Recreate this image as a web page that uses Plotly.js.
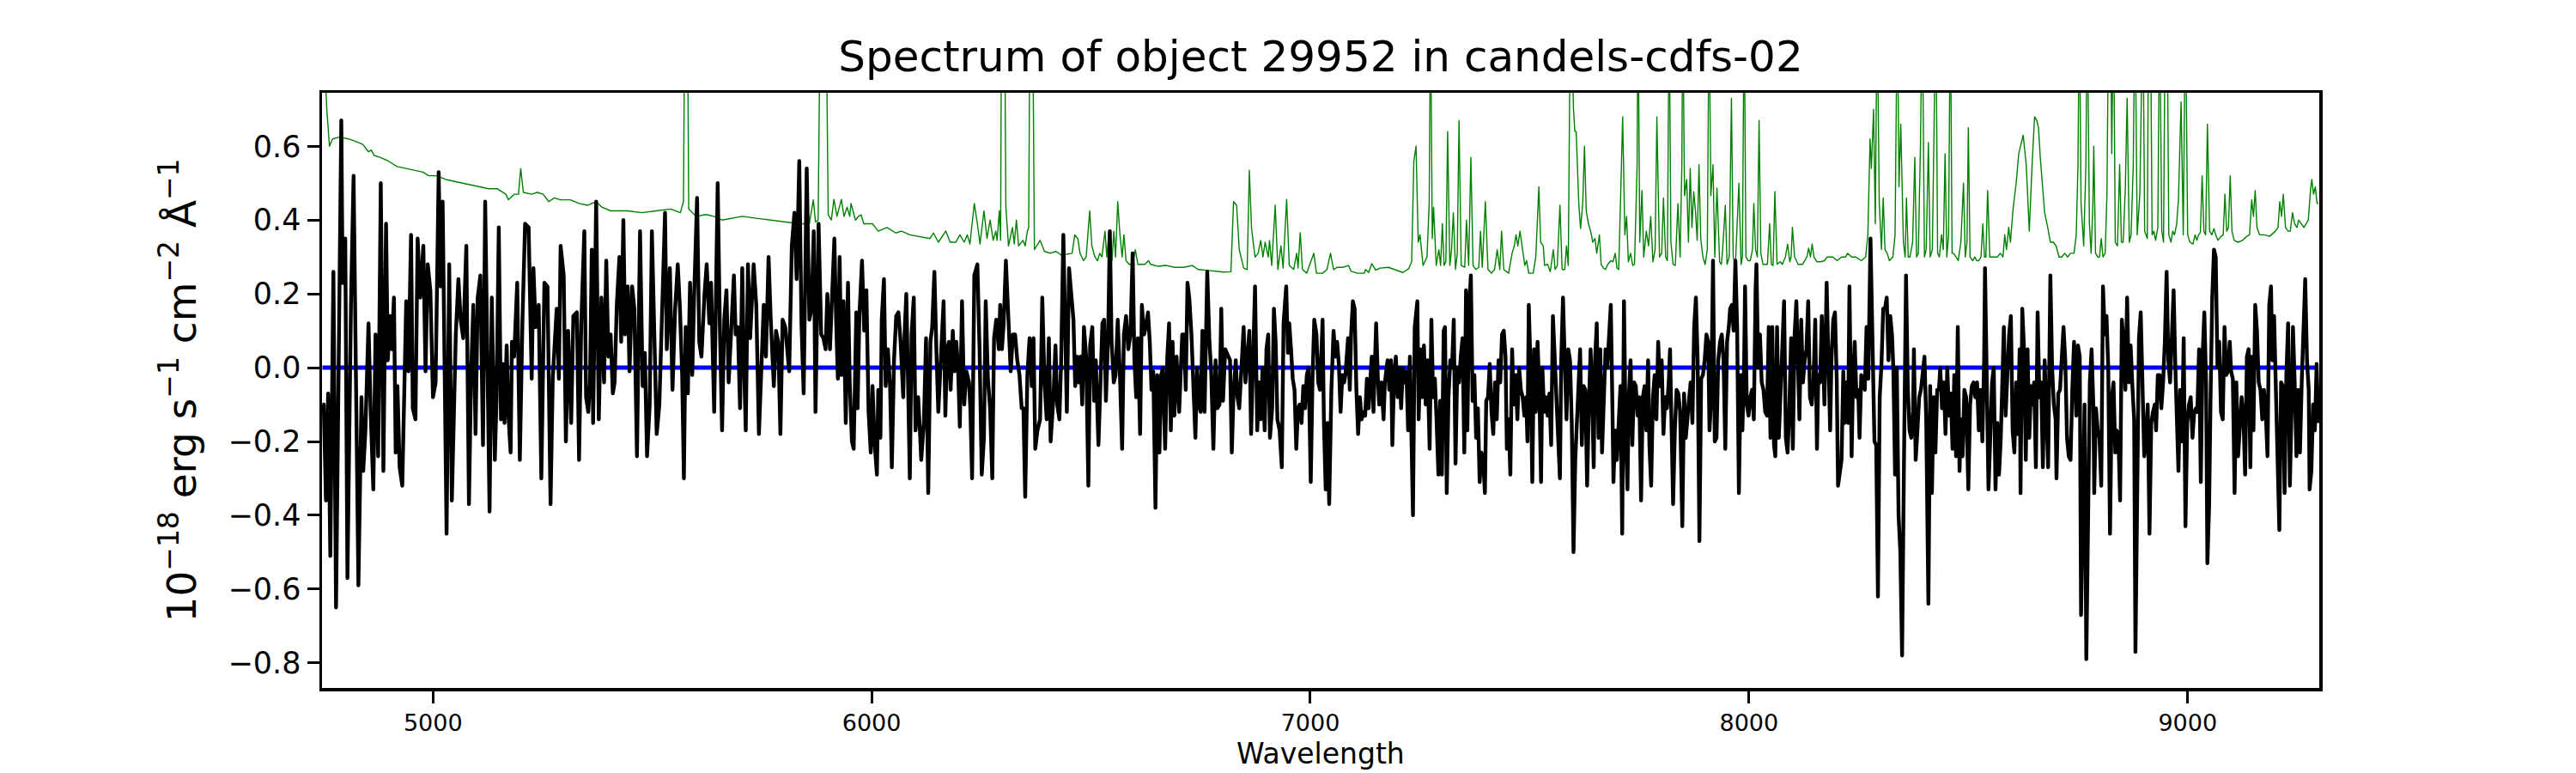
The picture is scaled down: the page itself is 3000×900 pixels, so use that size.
<!DOCTYPE html>
<html>
<head>
<meta charset="utf-8">
<script src="https://cdn.plot.ly/plotly-3.0.1.min.js"></script>
<style>
  body { margin: 0; background: #fff; }
  #plot { width: 3000px; height: 900px; }
  .scatterlayer .js-line { stroke-linejoin: round; }
</style>
</head>
<body>
<div id="plot"></div>
<script>
// spectrum, [wavelength, flux] in 1e-18 erg/s/cm2/A
const flux4750 = [
  [4748,-0.10],[4751,-0.10],[4756,-0.36],[4761,-0.07],[4766,-0.51],[4769,-0.11],[4773,0.26],[4779,-0.65],
  [4784,-0.10],[4791,0.67],[4794,0.23],[4800,0.35],[4805,-0.57],[4813,0.17],[4819,0.52],[4825,-0.06],
  [4830,-0.59],[4837,-0.08],[4841,-0.28],[4846,-0.17],[4853,0.12],[4858,-0.12],[4864,-0.33],[4869,0.09],
  [4875,-0.24],[4881,0.50],[4887,-0.28],[4893,0.39],[4897,0.02],[4902,0.14],[4906,0.05],[4911,0.19],
  [4915,-0.23],[4919,-0.05],[4924,-0.27],[4930,-0.32],[4934,-0.12],[4939,0.18],[4944,-0.01],[4950,0.36],
  [4954,-0.11],[4960,-0.14],[4965,0.35],[4971,0.19],[4978,0.33],[4983,-0.01],[4988,0.28],[4994,0.21],
  [5000,-0.08],[5006,-0.04],[5013,0.53],[5017,0.22],[5022,0.45],[5026,0.12],[5031,-0.45],[5037,0.28],
  [5043,-0.36],[5052,0.09],[5058,0.24],[5063,0.13],[5069,0.08],[5076,0.33],[5082,-0.37],[5087,-0.01],
  [5092,0.17],[5097,-0.18],[5102,0.19],[5108,0.25],[5114,-0.21],[5119,0.45],[5123,0.09],[5129,-0.39],
  [5134,0.19],[5141,-0.25],[5145,-0.08],[5150,0.38],[5155,-0.14],[5159,0.01],[5163,-0.15],[5168,0.06],
  [5172,-0.13],[5177,-0.23],[5180,0.07],[5185,0.03],[5192,0.23],[5198,-0.25],[5204,0.13],[5210,0.39],
  [5218,0.38],[5225,-0.03],[5229,0.27],[5234,0.11],[5241,0.17],[5247,-0.30],[5254,0.23],[5261,0.22],
  [5268,-0.37],[5273,-0.03],[5282,0.16],[5287,-0.03],[5291,0.33],[5298,0.25],[5303,-0.20],[5308,0.10]
];
const flux5300 = [
  [5315,-0.15],[5320,0.14],[5328,0.15],[5333,-0.25],[5338,0.12],[5345,0.37],[5349,-0.08],[5354,-0.12],
  [5358,-0.04],[5362,0.32],[5365,-0.15],[5372,0.45],[5378,-0.14],[5384,0.19],[5390,-0.04],[5395,0.29],
  [5400,0.03],[5405,0.09],[5410,-0.07],[5414,-0.04],[5419,0.17],[5425,0.30],[5429,0.07],[5434,0.40],
  [5438,0.09],[5444,0.22],[5448,-0.01],[5454,0.22],[5459,0.16],[5465,-0.24],[5472,0.37],[5478,-0.05],
  [5483,0.04],[5488,-0.24],[5494,-0.10],[5499,0.37],[5504,0.12],[5510,-0.18],[5516,-0.10],[5522,0.12],
  [5529,0.42],[5533,0.05],[5540,0.27],[5546,-0.06],[5552,0.16],[5558,0.28],[5563,0.16],[5568,-0.02],
  [5572,-0.30],[5576,0.11],[5581,-0.07],[5586,0.23],[5591,-0.02],[5595,0.18],[5602,0.46],[5607,0.07],
  [5612,0.03],[5619,0.20],[5624,0.28],[5630,0.12],[5634,0.23],[5641,-0.12],[5649,0.50],[5654,0.11],
  [5659,-0.17],[5664,0.13],[5669,0.21],[5674,-0.04],[5680,0.13],[5686,0.25],[5690,0.09],[5695,0.11],
  [5700,-0.11],[5705,0.27],[5708,0.06],[5713,-0.17],[5718,0.28],[5723,0.08],[5731,0.28],[5737,0.17],
  [5743,-0.18],[5748,-0.02],[5754,0.17],[5759,0.03],[5765,0.30],[5770,0.13],[5777,-0.05],[5782,0.10],
  [5787,0.07],[5792,-0.18],[5797,0.13],[5803,0.11],[5808,0.04],[5812,-0.01],[5818,0.33],[5824,0.42],
  [5829,0.24],[5835,0.56],[5840,0.12],[5845,-0.07],[5852,0.54],[5858,0.13],[5863,0.16],[5868,0.37],
  [5872,-0.12],[5879,0.39]
];
const flux5900 = [
  [5885,0.09],[5890,0.08],[5895,0.05],[5899,0.20],[5905,0.05],[5910,0.18],[5915,0.35],[5919,0.13],
  [5923,-0.03],[5927,0.30],[5931,-0.02],[5936,0.18],[5941,-0.15],[5946,0.23],[5950,-0.04],[5955,-0.20],
  [5959,-0.22],[5965,0.15],[5968,-0.11],[5972,0.14],[5978,0.29],[5983,0.10],[5988,0.21],[5993,-0.12],
  [5998,-0.23],[6002,-0.05],[6007,-0.21],[6012,-0.29],[6015,-0.06],[6020,-0.19],[6023,0.13],[6028,0.24],
  [6032,-0.05],[6037,0.05],[6042,-0.05],[6046,-0.27],[6051,0.02],[6056,0.14],[6061,0.15],[6066,0.07],
  [6072,-0.08],[6075,0.09],[6079,0.20],[6083,-0.04],[6087,-0.30],[6091,0.09],[6096,0.19],[6100,-0.17],
  [6106,-0.08],[6110,-0.17],[6113,-0.25],[6119,-0.15],[6124,0.08],[6129,-0.34],[6134,0.07],[6138,0.11],
  [6143,0.26],[6148,0.03],[6152,-0.12],[6156,-0.02],[6160,0.06],[6164,0.18],[6168,-0.13],[6172,0.05],
  [6176,0.07],[6180,-0.06],[6185,0.10],[6189,-0.01],[6193,0.07],[6197,0.00],[6201,-0.16],[6206,0.18],
  [6211,-0.10],[6216,-0.01],[6222,-0.04],[6225,-0.11],[6229,-0.30],[6234,0.25],[6241,0.28],[6246,0.05],
  [6251,-0.29],[6256,-0.19],[6260,0.18],[6265,-0.03],[6270,-0.11],[6275,-0.30],[6279,0.08],[6284,0.13],
  [6290,0.05],[6293,0.17],[6297,0.05],[6301,0.12],[6306,0.29],[6312,0.13],[6317,-0.01],[6322,0.09],
  [6327,0.09],[6332,0.02],[6337,-0.02],[6342,-0.11],[6346,-0.11],[6350,-0.35],[6355,-0.02],[6360,0.08],
  [6365,-0.05],[6369,0.08],[6373,-0.22],[6378,-0.17],[6384,-0.14],[6389,0.19],[6394,-0.04],[6399,-0.14],
  [6404,0.08],[6408,-0.20],[6414,-0.09],[6419,0.06],[6423,-0.10],[6428,-0.14],[6432,0.02],[6437,0.36],
  [6441,0.17],[6445,-0.12],[6450,0.27]
];
const flux6450 = [
  [6457,0.15],[6460,0.13],[6464,-0.05],[6468,0.03],[6472,-0.04],[6476,0.03],[6480,-0.10],[6484,0.11],
  [6489,0.03],[6494,-0.32],[6498,0.06],[6503,0.11],[6507,-0.09],[6511,0.02],[6517,-0.21],[6522,-0.02],
  [6526,0.12],[6530,0.13],[6534,-0.09],[6539,0.08],[6543,0.37],[6547,0.07],[6552,-0.04],[6556,-0.02],
  [6561,0.13],[6566,-0.02],[6571,-0.22],[6575,0.09],[6580,0.14],[6585,0.05],[6590,0.09],[6595,0.31],
  [6599,0.02],[6603,-0.08],[6607,0.08],[6612,-0.18],[6616,0.17],[6621,0.09],[6625,0.11],[6630,0.15],
  [6634,0.07],[6638,-0.06],[6642,-0.01],[6647,-0.38],[6651,-0.02],[6656,-0.23],[6660,-0.02],[6664,0.00],
  [6669,-0.22],[6674,0.03],[6678,0.12],[6682,-0.17],[6686,0.07],[6690,-0.13],[6695,0.03],[6701,-0.12],
  [6705,-0.01],[6708,0.09],[6712,0.09],[6716,-0.06],[6720,0.23],[6724,0.19],[6729,0.09],[6733,-0.03],
  [6738,-0.19],[6742,0.00],[6746,-0.10],[6750,-0.12],[6754,0.10],[6759,-0.12],[6765,0.26],[6770,0.07],
  [6774,-0.01],[6779,-0.22],[6784,0.02],[6788,-0.11],[6793,-0.10],[6797,0.16],[6801,-0.09],[6806,0.05],
  [6812,0.03],[6817,0.02],[6821,-0.23],[6825,-0.07],[6830,0.02],[6834,-0.08],[6838,-0.11],[6843,0.00],
  [6848,0.11],[6852,-0.04],[6857,0.06],[6861,0.10],[6865,-0.18],[6869,0.02],[6874,0.22],[6879,-0.17],
  [6883,-0.04],[6887,-0.14],[6891,0.00],[6896,-0.17],[6900,0.05],[6904,0.09],[6908,-0.19],[6913,-0.11],
  [6917,0.16],[6921,0.07],[6925,-0.14],[6930,-0.17],[6935,-0.27],[6939,0.12],[6945,0.22],[6949,0.04],
  [6952,0.12],[6956,0.05],[6960,-0.03],[6964,-0.06],[6968,-0.22],[6972,-0.11],[6976,-0.10],[6980,-0.15],
  [6984,-0.05],[6988,-0.11],[6992,-0.02],[6996,0.00],[7001,-0.31],[7005,-0.03],[7009,0.13],[7014,0.09],
  [7018,-0.04],[7022,-0.06]
];
const flux7030 = [
  [7028,0.13],[7031,-0.15],[7035,-0.33],[7039,-0.15],[7043,-0.37],[7048,-0.06],[7053,0.10],[7057,0.03],
  [7061,0.07],[7065,0.01],[7069,-0.12],[7073,-0.02],[7077,-0.04],[7080,-0.02],[7086,0.08],[7090,-0.06],
  [7093,0.09],[7097,0.18],[7101,0.16],[7105,-0.06],[7109,-0.18],[7113,-0.08],[7117,-0.14],[7121,-0.12],
  [7125,-0.13],[7129,-0.03],[7133,-0.11],[7137,-0.03],[7140,0.03],[7144,-0.12],[7150,0.12],[7154,-0.03],
  [7157,-0.10],[7162,-0.04],[7167,-0.14],[7170,-0.04],[7176,0.02],[7180,-0.06],[7184,0.02],[7187,-0.21],
  [7191,-0.02],[7195,0.03],[7199,-0.08],[7203,0.00],[7207,-0.11],[7211,0.00],[7215,-0.04],[7219,-0.01],
  [7223,-0.17],[7227,0.03],[7230,-0.15],[7234,-0.40],[7238,0.11],[7244,0.18],[7247,-0.14],[7251,0.05],
  [7255,-0.08],[7259,0.06],[7263,-0.10],[7267,0.02],[7272,-0.22],[7276,0.13],[7280,-0.08],[7284,-0.03],
  [7288,-0.15],[7292,-0.29],[7296,-0.09],[7300,-0.29],[7304,0.10],[7307,0.11],[7311,-0.34],[7315,-0.08],
  [7319,0.02],[7323,0.00],[7327,0.13],[7331,-0.26],[7335,0.00],[7339,-0.04],[7343,0.03],[7347,0.08],
  [7351,-0.23],[7355,0.21],[7358,-0.17],[7362,0.16],[7366,0.25],[7370,-0.09],[7374,-0.02],[7378,-0.19],
  [7382,-0.11],[7386,-0.31],[7390,-0.23],[7394,-0.25],[7398,-0.34],[7401,-0.09],[7405,-0.08],[7409,0.01],
  [7413,-0.12],[7417,-0.18],[7421,-0.04],[7425,-0.14],[7429,0.02],[7433,-0.04],[7437,0.09],[7441,0.10],
  [7445,0.03],[7448,-0.22],[7452,-0.14],[7456,-0.29],[7460,0.05],[7464,-0.10],[7468,-0.02],[7472,-0.14],
  [7476,0.00],[7480,-0.06],[7484,-0.08],[7488,-0.13],[7492,-0.08],[7495,-0.20],[7498,0.17],[7502,0.00],
  [7506,-0.31],[7510,0.05],[7514,-0.12],[7518,0.07],[7522,-0.06],[7526,-0.31],[7529,0.00],[7533,-0.12],
  [7537,-0.08],[7541,-0.13],[7545,-0.07],[7549,-0.21],[7553,0.14],[7557,0.02],[7561,-0.08],[7565,-0.19],
  [7569,-0.30],[7572,0.02],[7576,0.19],[7580,0.02],[7584,-0.14],[7588,0.05],[7592,0.02],[7596,-0.15]
];
const flux7600 = [
  [7600,-0.50],[7604,-0.25],[7608,-0.14],[7612,-0.04],[7615,0.05],[7619,-0.21],[7623,-0.05],[7627,-0.06],
  [7631,-0.32],[7635,-0.10],[7639,0.05],[7643,-0.11],[7646,-0.27],[7649,0.02],[7653,0.12],[7657,-0.19],
  [7661,0.05],[7665,-0.23],[7669,-0.04],[7673,0.05],[7677,0.00],[7681,0.07],[7685,0.17],[7689,-0.13],
  [7691,-0.31],[7695,-0.17],[7699,-0.25],[7703,-0.15],[7707,-0.05],[7711,-0.45],[7715,0.18],[7719,-0.18],
  [7723,-0.33],[7726,-0.08],[7730,0.02],[7734,-0.21],[7738,-0.04],[7742,-0.05],[7746,-0.13],[7750,-0.08],
  [7754,-0.36],[7758,-0.08],[7762,-0.05],[7766,-0.17],[7770,0.02],[7773,-0.21],[7777,-0.32],[7781,-0.08],
  [7785,-0.02],[7789,-0.14],[7793,0.07],[7797,-0.05],[7801,0.02],[7805,-0.18],[7809,-0.08],[7813,-0.11],
  [7817,-0.04],[7820,0.05],[7824,-0.19],[7827,-0.37],[7831,-0.17],[7835,-0.06],[7839,-0.07],[7843,-0.12],
  [7848,-0.43],[7852,-0.07],[7856,-0.19],[7860,-0.11],[7863,-0.09],[7867,-0.04],[7871,-0.15],[7875,0.11],
  [7879,0.19],[7883,0.02],[7887,-0.47],[7891,-0.03],[7895,-0.02],[7899,0.02],[7903,0.09],[7907,0.07],
  [7910,-0.17],[7914,-0.08],[7918,0.29],[7922,-0.20],[7926,-0.19],[7930,0.02],[7934,0.07],[7938,0.09],
  [7942,0.02],[7946,-0.22],[7950,0.07],[7954,0.11],[7957,0.16],[7961,0.17],[7965,0.10],[7969,0.29],
  [7973,0.11],[7977,-0.34],[7981,-0.02],[7985,-0.17],[7989,0.02],[7991,0.22],[7995,-0.10],[7999,-0.13],
  [8003,-0.08],[8007,-0.06],[8011,-0.14],[8015,0.21],[8017,0.28],[8021,0.00],[8025,0.09],[8029,-0.04],
  [8033,-0.06],[8037,-0.12],[8041,-0.13],[8045,0.11],[8049,-0.19],[8053,0.11],[8057,-0.21],[8060,-0.24],
  [8064,0.11],[8068,-0.19],[8072,-0.08],[8076,0.08],[8080,0.18],[8084,-0.19],[8088,-0.23],[8092,-0.11],
  [8096,0.08],[8100,-0.22],[8104,0.09],[8108,0.18],[8111,0.02],[8115,-0.14],[8119,0.13],[8123,-0.04],
  [8127,0.02],[8131,0.05],[8135,0.18],[8139,-0.08],[8143,-0.10],[8147,-0.04],[8151,0.13],[8155,-0.22],
  [8158,-0.02],[8162,-0.04],[8166,0.14]
];
const flux8170 = [
  [8172,-0.10],[8177,0.23],[8181,0.00],[8185,-0.17],[8188,0.02],[8192,0.13],[8196,0.15],[8200,-0.03],
  [8203,-0.32],[8207,-0.28],[8211,-0.25],[8215,-0.01],[8218,-0.15],[8222,-0.04],[8226,-0.15],[8229,0.22],
  [8234,-0.24],[8237,-0.04],[8241,0.07],[8245,-0.08],[8249,-0.06],[8252,-0.19],[8256,-0.02],[8260,-0.04],
  [8264,-0.06],[8268,0.11],[8272,-0.03],[8277,0.35],[8281,0.11],[8286,-0.20],[8290,-0.21],[8294,-0.62],
  [8298,-0.08],[8302,0.01],[8306,0.16],[8310,0.16],[8314,0.19],[8318,0.02],[8322,0.14],[8326,0.09],
  [8329,0.00],[8333,-0.29],[8337,0.00],[8341,-0.40],[8345,-0.50],[8349,-0.78],[8353,-0.29],[8358,0.25],
  [8362,-0.05],[8366,-0.17],[8370,-0.19],[8374,-0.12],[8376,0.05],[8380,-0.25],[8384,-0.17],[8388,-0.08],
  [8392,-0.06],[8396,-0.02],[8400,0.03],[8404,-0.14],[8409,-0.64],[8413,-0.05],[8417,-0.34],[8421,-0.08],
  [8425,-0.23],[8429,-0.06],[8433,-0.06],[8436,0.00],[8440,-0.11],[8444,-0.04],[8448,-0.18],[8452,0.00],
  [8456,-0.13],[8460,-0.07],[8464,-0.22],[8468,-0.02],[8472,-0.24],[8476,0.11],[8480,-0.28],[8483,-0.14],
  [8487,-0.24],[8491,-0.06],[8495,-0.08],[8500,-0.33],[8504,-0.10],[8508,-0.05],[8512,-0.04],[8516,-0.08],
  [8520,-0.04],[8524,-0.17],[8528,-0.06],[8532,-0.20],[8536,0.02],[8538,0.27],[8542,-0.14],[8546,-0.33],
  [8550,-0.19],[8554,-0.04],[8558,0.00],[8562,-0.33],[8566,-0.15],[8570,-0.29],[8574,-0.19],[8577,-0.04],
  [8581,0.11],[8585,-0.13],[8589,0.00],[8593,0.09],[8597,0.14],[8601,-0.17],[8605,-0.23],[8609,-0.04],
  [8613,-0.18],[8617,0.05],[8619,-0.34],[8623,0.16],[8627,0.05],[8631,-0.25],[8635,0.05],[8639,-0.19],
  [8643,-0.05],[8647,-0.10],[8650,-0.04],[8654,-0.27],[8658,0.15],[8662,-0.08],[8666,-0.04],[8670,-0.27],
  [8674,0.02],[8678,-0.17],[8682,-0.27],[8687,0.25],[8691,0.00],[8695,-0.10],[8699,-0.14],[8701,-0.30],
  [8705,-0.07],[8709,-0.06],[8713,0.05],[8717,0.11],[8721,0.02],[8725,-0.19],[8729,-0.24],[8733,-0.25],
  [8737,-0.06],[8741,0.07]
];
const flux8740 = [
  [8743,0.00],[8746,-0.13],[8750,0.06],[8754,0.03],[8757,-0.67],[8761,-0.29],[8765,-0.10],[8769,-0.79],
  [8773,-0.29],[8777,-0.04],[8781,0.05],[8785,-0.10],[8787,-0.34],[8791,-0.11],[8795,-0.17],[8799,-0.19],
  [8803,-0.32],[8807,0.22],[8811,0.09],[8815,0.14],[8819,0.00],[8823,-0.45],[8827,-0.08],[8831,-0.04],
  [8835,-0.23],[8838,-0.17],[8842,-0.18],[8846,-0.36],[8850,0.13],[8854,0.07],[8858,-0.06],[8862,0.19],
  [8866,-0.04],[8870,0.06],[8874,-0.05],[8878,-0.14],[8881,-0.77],[8885,-0.19],[8889,0.08],[8893,0.15],
  [8897,-0.08],[8901,-0.24],[8905,-0.19],[8909,-0.10],[8913,-0.45],[8917,-0.15],[8921,-0.12],[8925,-0.10],
  [8928,-0.17],[8932,-0.02],[8936,-0.02],[8940,-0.11],[8944,-0.04],[8948,0.07],[8952,0.26],[8956,0.02],
  [8960,-0.04],[8964,0.09],[8968,0.21],[8972,0.00],[8975,-0.14],[8979,-0.28],[8983,-0.06],[8987,-0.20],
  [8991,0.08],[8995,-0.43],[8999,-0.15],[9003,-0.10],[9007,-0.08],[9011,-0.19],[9015,-0.12],[9019,-0.11],
  [9022,-0.12],[9026,0.05],[9030,-0.31],[9034,0.03],[9038,0.15],[9042,-0.04],[9045,-0.53],[9049,-0.37],
  [9052,-0.10],[9056,0.19],[9060,0.32],[9064,0.30],[9068,0.00],[9072,0.07],[9076,-0.12],[9080,-0.14],
  [9084,0.11],[9088,-0.02],[9092,-0.01],[9096,0.07],[9099,-0.01],[9103,-0.03],[9107,-0.34],[9111,-0.04],
  [9115,-0.24],[9119,-0.17],[9123,-0.08],[9127,-0.13],[9131,-0.29],[9135,0.03],[9139,0.05],[9143,-0.27],
  [9146,0.03],[9150,-0.17],[9154,0.17],[9158,0.10],[9162,-0.04],[9166,-0.06],[9170,-0.14],[9174,-0.06],
  [9178,-0.12],[9182,-0.24],[9186,0.17],[9190,0.22],[9193,0.02],[9197,0.14],[9201,-0.04],[9205,-0.22],
  [9209,-0.44],[9213,-0.04],[9217,-0.05],[9221,-0.34],[9225,-0.02],[9229,0.12],[9233,-0.32],[9237,-0.11],
  [9240,0.11],[9244,-0.04],[9248,-0.24],[9252,-0.06],[9256,-0.23],[9260,-0.04],[9264,0.11],[9268,0.24],
  [9272,0.02],[9276,-0.06],[9278,-0.33],[9282,-0.28],[9286,-0.10],[9290,-0.17],[9294,0.01],[9298,-0.15]
];

// green noise / sky curve, sky lines run off the top of the axes
const noiseBlue = [
  [4748,1.0],[4752,0.85],[4758,0.70],[4764,0.60],[4771,0.62],[4787,0.625],[4807,0.62],[4820,0.615],
  [4840,0.605],[4853,0.585],[4859,0.59],[4866,0.575],[4879,0.57],[4898,0.56],[4918,0.545],[4937,0.54],
  [4957,0.535],[4977,0.53],[4990,0.52],[5009,0.52],[5029,0.51],[5048,0.505],[5068,0.50],[5087,0.495],
  [5107,0.49],[5127,0.485],[5146,0.485],[5166,0.47],[5172,0.455],[5185,0.47],[5195,0.47],[5200,0.54],
  [5206,0.475],[5225,0.47],[5238,0.475],[5251,0.47],[5264,0.45],[5277,0.46],[5290,0.455],
  [5313,0.455],[5333,0.445],[5352,0.44],[5372,0.45],[5385,0.435],[5405,0.425],[5444,0.425],[5476,0.42],
  [5509,0.425],[5542,0.43],[5564,0.42],[5571,0.45],[5574,1.0],[5580,1.0],[5583,0.43],[5591,0.42],
  [5600,0.41],[5623,0.415],[5640,0.41],[5659,0.40],[5705,0.41],[5737,0.405],[5770,0.40],[5803,0.395],
  [5835,0.39],[5858,0.39],[5867,0.455],[5872,0.395],[5878,0.40],[5883,1.0]
];
const noiseGreen = [
  [5896,1.0],[5901,0.414],[5908,0.40],[5914,0.456],[5921,0.41],[5931,0.456],[5937,0.41],[5944,0.435],
  [5950,0.41],[5953,0.445],[5963,0.40],[5970,0.41],[5976,0.414],[5982,0.39],[5989,0.39],[6002,0.39],
  [6015,0.37],[6035,0.38],[6055,0.365],[6068,0.37],[6087,0.36],[6113,0.355],[6133,0.35],[6141,0.365],
  [6152,0.34],[6169,0.37],[6179,0.34],[6192,0.34],[6201,0.36],[6211,0.34],[6218,0.36],[6224,0.335],
  [6234,0.445],[6241,0.39],[6247,0.335],[6256,0.425],[6263,0.35],[6270,0.40],[6277,0.345],[6283,0.37],
  [6286,0.345],[6291,0.425],[6294,0.345],[6296,1.0],[6303,1.0],[6306,0.435],[6312,0.33],[6321,0.38],
  [6325,0.335],[6330,0.40],[6335,0.33],[6345,0.345],[6350,0.33],[6355,0.37],[6358,0.38],[6361,1.0],
  [6367,1.0],[6371,0.32],[6384,0.345],[6394,0.315],[6407,0.31],[6420,0.315],[6433,0.305],[6457,0.31],
  [6463,0.36],[6470,0.35],[6475,0.31],[6483,0.29],[6489,0.30],[6497,0.425],[6502,0.33],[6509,0.30],
  [6515,0.29],[6520,0.31],[6525,0.30],[6532,0.37],[6536,0.30],[6541,0.37],[6548,0.29],[6552,0.37],
  [6556,0.30],[6561,0.45],[6566,0.36],[6571,0.30],[6575,0.36],[6580,0.29],[6587,0.28],[6595,0.28],
  [6601,0.32],[6607,0.28],[6616,0.28],[6623,0.28],[6631,0.29],[6636,0.28],[6652,0.275],[6672,0.277],
  [6691,0.272],[6711,0.272],[6731,0.277],[6744,0.266],[6763,0.264],[6783,0.261],[6802,0.259],[6819,0.26],
  [6825,0.45],[6832,0.44],[6838,0.32],[6848,0.27],[6856,0.266],[6861,0.535],[6866,0.377],[6874,0.30],
  [6881,0.31],[6887,0.345],[6892,0.30],[6897,0.34],[6904,0.30],[6907,0.345],[6912,0.277],[6920,0.44],
  [6926,0.266],[6933,0.33],[6938,0.27],[6946,0.456],[6952,0.277],[6962,0.266],[6969,0.31],[6972,0.27],
  [6977,0.366],[6982,0.266],[6992,0.256],[6998,0.277],[7008,0.31],[7014,0.256]
];
const noiseRed = [
  [7028,0.256],[7038,0.266],[7046,0.31],[7053,0.266],[7061,0.272],[7074,0.272],[7087,0.277],[7093,0.261],
  [7107,0.256],[7123,0.256],[7126,0.266],[7133,0.258],[7140,0.282],[7149,0.264],[7159,0.27],[7178,0.272],
  [7198,0.264],[7211,0.258],[7224,0.268],[7231,0.287],[7236,0.56],[7241,0.60],[7246,0.34],[7250,0.36],
  [7257,0.277],[7266,0.30],[7271,0.445],[7274,1.0],[7278,0.35],[7281,0.435],[7287,0.277],[7293,0.32],
  [7297,0.277],[7301,0.39],[7305,0.277],[7309,0.287],[7313,0.64],[7318,0.277],[7322,0.32],[7326,0.42],
  [7331,0.266],[7335,0.31],[7339,0.67],[7344,0.277],[7352,0.272],[7356,0.40],[7361,0.277],[7366,0.57],
  [7371,0.277],[7377,0.266],[7384,0.272],[7388,0.37],[7392,0.272],[7399,0.45],[7405,0.266],[7413,0.256],
  [7420,0.266],[7426,0.32],[7432,0.266],[7436,0.37],[7441,0.266],[7452,0.256],[7460,0.31],[7465,0.33],
  [7469,0.36],[7473,0.33],[7478,0.37],[7484,0.32],[7489,0.277],[7493,0.29],[7498,0.256],[7508,0.256],
  [7514,0.30],[7521,0.49],[7525,0.34],[7531,0.33],[7534,0.277],[7541,0.28],[7547,0.26],[7554,0.32],
  [7558,0.266],[7563,0.277],[7569,0.44],[7574,0.266],[7580,0.266],[7584,0.33],[7588,0.277],[7593,1.0],
  [7600,0.70],[7603,0.64],[7606,0.64],[7612,0.445],[7616,0.377],[7621,0.445],[7625,0.60],[7629,0.424],
  [7634,0.39],[7639,0.37],[7644,0.34],[7649,0.35],[7653,0.31],[7659,0.36],[7663,0.28],[7668,0.27],
  [7673,0.266],[7678,0.28],[7685,0.29],[7690,0.287],[7695,0.31],[7699,0.27],[7703,0.266],[7707,0.445],
  [7712,0.68],[7717,0.36],[7721,0.41],[7725,0.287],[7730,0.31],[7735,0.277],[7739,0.28],[7745,0.55],
  [7747,1.0],[7751,0.34],[7756,0.48],[7760,0.30],[7766,0.37],[7771,0.33],[7776,0.41],[7781,0.287],
  [7786,0.32],[7790,0.68],[7796,0.30],[7801,0.31],[7805,0.46],[7810,0.30],[7814,0.29],[7818,1.0],
  [7822,0.34],[7827,0.28],[7832,0.277],[7838,0.445],[7843,0.30],[7847,0.55],[7849,1.0],[7853,0.466],
  [7858,0.51],[7862,0.34],[7866,0.54],[7870,0.38],[7874,0.477],[7878,0.424],[7882,0.345],[7886,0.55],
  [7890,0.35],[7895,0.30],[7900,0.28],[7905,0.32],[7909,1.0],[7913,0.466],[7918,0.55],[7922,0.30],
  [7927,0.487],[7933,0.287],[7937,0.28],[7940,0.32],[7946,0.44],[7950,0.28],[7955,0.30],[7960,0.73],
  [7964,0.30],[7969,0.277],[7973,0.41],[7977,0.50],[7982,0.28],[7985,0.30],[7989,1.0],[7993,0.30],
  [7998,0.29],[8003,0.29],[8008,0.32],[8011,0.445],[8015,0.32],[8019,0.30],[8023,0.67],[8027,0.31],
  [8032,0.28],[8037,0.28],[8042,0.28],[8047,0.39],[8051,0.28],[8055,0.277],[8059,0.477],[8064,0.28],
  [8071,0.287],[8076,0.28],[8083,0.30],[8088,0.335],[8093,0.287],[8096,0.30],[8099,0.38],[8104,0.30],
  [8112,0.28],[8122,0.28],[8132,0.30],[8136,0.324],[8140,0.30],[8144,0.335],[8148,0.30],[8155,0.287],
  [8164,0.287]
];
const noiseIR = [
  [8172,0.29],[8178,0.30],[8185,0.30],[8191,0.30],[8201,0.29],[8211,0.30],[8220,0.30],[8225,0.31],
  [8234,0.30],[8243,0.30],[8256,0.29],[8266,0.30],[8271,0.36],[8276,0.62],[8279,0.54],[8284,0.70],
  [8288,0.39],[8292,1.0],[8297,0.445],[8302,0.32],[8306,0.46],[8310,0.32],[8315,0.31],[8320,0.29],
  [8328,0.30],[8333,0.36],[8338,1.0],[8342,0.49],[8346,0.66],[8352,0.34],[8356,0.30],[8359,0.46],
  [8363,0.30],[8367,0.30],[8373,0.34],[8378,0.57],[8382,0.30],[8386,0.31],[8391,0.61],[8395,1.0],
  [8400,0.30],[8404,0.32],[8409,0.61],[8413,0.30],[8418,0.32],[8422,0.66],[8426,1.0],[8430,0.31],
  [8434,0.30],[8439,0.36],[8443,0.32],[8447,0.58],[8451,0.30],[8455,0.36],[8459,1.0],[8463,0.31],
  [8466,0.31],[8472,0.30],[8477,0.29],[8483,0.34],[8489,0.50],[8493,0.30],[8497,0.34],[8500,0.65],
  [8504,0.30],[8510,0.29],[8515,0.30],[8519,0.29],[8524,0.29],[8529,0.30],[8533,0.39],[8537,0.30],
  [8540,0.30],[8544,0.48],[8549,0.30],[8557,0.30],[8566,0.30],[8573,0.31],[8579,0.30],[8583,0.36],
  [8587,0.32],[8592,0.38],[8596,0.34],[8602,0.43],[8609,0.50],[8615,0.58],[8625,0.63],[8632,0.55],
  [8639,0.37],[8645,0.54],[8651,0.68],[8656,0.67],[8660,0.65],[8664,0.57],[8669,0.50],[8674,0.42],
  [8681,0.38],[8687,0.34],[8694,0.34],[8700,0.33],[8707,0.30],[8713,0.30],[8720,0.31],[8726,0.30],
  [8733,0.31],[8741,0.31],
  [8746,0.36],[8750,0.55],[8753,1.0],[8757,0.445],[8763,0.33],[8768,0.55],[8771,1.0],[8776,0.39],
  [8780,0.31],[8784,0.445],[8786,0.60],[8790,0.31],[8795,0.30],[8799,0.30],[8803,0.35],[8807,0.30],
  [8812,0.31],[8816,0.47],[8820,1.0],[8824,1.0],[8827,0.58],[8831,1.0],[8835,0.34],[8840,0.33],
  [8845,0.55],[8849,0.34],[8853,0.34],[8858,0.49],[8862,0.73],[8867,0.34],[8871,0.36],[8876,0.55],
  [8880,1.0],[8885,0.36],[8891,0.47],[8895,1.0],[8898,1.0],[8902,0.37],[8908,0.35],[8911,1.0],
  [8915,1.0],[8919,0.36],[8923,0.37],[8927,0.345],[8932,0.38],[8936,1.0],[8941,0.37],[8945,0.34],
  [8949,1.0],[8953,1.0],[8957,0.36],[8962,0.34],[8966,0.37],[8970,0.36],[8975,0.39],[8979,0.455],
  [8985,0.72],[8990,0.36],[8995,1.0],[9000,0.36],[9005,0.34],[9012,0.335],[9017,0.36],[9021,0.345],
  [9025,0.36],[9029,0.366],[9033,0.52],[9037,0.37],[9041,0.36],[9045,0.66],[9050,0.37],[9055,0.36],
  [9060,0.377],[9064,0.36],[9069,0.345],[9076,0.356],[9081,0.36],[9085,0.47],[9089,0.37],[9093,0.38],
  [9097,0.52],[9101,0.37],[9106,0.345],[9115,0.34],[9125,0.345],[9135,0.356],[9141,0.36],[9146,0.455],
  [9150,0.41],[9154,0.48],[9158,0.38],[9164,0.36],[9174,0.36],[9187,0.356],[9200,0.37],[9206,0.38],
  [9210,0.45],[9214,0.41],[9218,0.47],[9223,0.38],[9229,0.37],[9234,0.37],[9239,0.42],[9244,0.39],
  [9249,0.38],[9253,0.40],[9259,0.39],[9265,0.38],[9270,0.39],[9275,0.40],[9280,0.48],[9283,0.51],
  [9287,0.47],[9291,0.49],[9295,0.445],[9298,0.445]
];

const yTicks = [-0.8, -0.6, -0.4, -0.2, 0.0, 0.2, 0.4, 0.6];
const xTicks = [5000, 6000, 7000, 8000, 9000];
const titleText = 'Spectrum of object 29952 in candels-cdfs-02';
const yLabel = '10<sup>\u221218</sup> erg s<sup>\u22121</sup> cm<sup>\u22122</sup> \u00c5<sup>\u22121</sup>';
const xLabel = 'Wavelength';

const spec = [].concat(flux4750, flux5300, flux5900, flux6450, flux7030, flux7600, flux8170, flux8740);
const noise = [].concat(noiseBlue, noiseGreen, noiseRed, noiseIR);
const wave = spec.map(p => p[0]);
const flux = spec.map(p => p[1]);

const traces = [
  {
    x: noise.map(p => p[0]), y: noise.map(p => p[1]),
    mode: 'lines', type: 'scatter',
    line: { color: '#008000', width: 1.4 },
    hoverinfo: 'skip'
  },
  {
    x: [wave[0], wave[wave.length - 1]], y: [0, 0],
    mode: 'lines', type: 'scatter',
    line: { color: '#0000ff', width: 5 },
    hoverinfo: 'skip'
  },
  {
    x: wave, y: flux,
    mode: 'lines', type: 'scatter',
    line: { color: '#000000', width: 4.4 },
    hoverinfo: 'skip'
  }
];

const layout = {
  width: 3000,
  height: 900,
  margin: { l: 375, r: 299, t: 108, b: 99, pad: 0 },
  paper_bgcolor: '#ffffff',
  plot_bgcolor: '#ffffff',
  showlegend: false,
  font: { family: 'DejaVu Sans, sans-serif', color: '#000000' },
  title: {
    text: titleText,
    font: { size: 50, color: '#000000' },
    x: 0.5, xref: 'paper', xanchor: 'center',
    y: 0.927, yref: 'container', yanchor: 'middle'
  },
  xaxis: {
    range: [4747, 9300],
    tickvals: xTicks,
    ticktext: xTicks.map(v => String(v)),
    ticks: 'outside', ticklen: 14, tickwidth: 3, tickcolor: '#000000',
    tickfont: { size: 27 },
    showline: true, mirror: true, linewidth: 3.5, linecolor: '#000000',
    showgrid: false, zeroline: false
  },
  yaxis: {
    range: [-0.868, 0.745],
    tickvals: yTicks,
    ticktext: yTicks.map(v => (v < 0 ? '\u2212' : '') + Math.abs(v).toFixed(1)),
    ticks: 'outside', ticklen: 14, tickwidth: 3, tickcolor: '#000000',
    tickfont: { size: 35 },
    showline: true, mirror: true, linewidth: 3.5, linecolor: '#000000',
    showgrid: false, zeroline: false
  },
  annotations: [
    {
      text: yLabel, textangle: -90,
      xref: 'paper', yref: 'paper', x: -0.0718, y: 0.5,
      xanchor: 'center', yanchor: 'middle',
      showarrow: false, font: { size: 47 }
    },
    {
      text: xLabel,
      xref: 'paper', yref: 'paper', x: 0.5, y: -0.111,
      xanchor: 'center', yanchor: 'middle',
      showarrow: false, font: { size: 33 }
    }
  ]
};

Plotly.newPlot('plot', traces, layout, { staticPlot: true, responsive: false });
</script>
</body>
</html>
